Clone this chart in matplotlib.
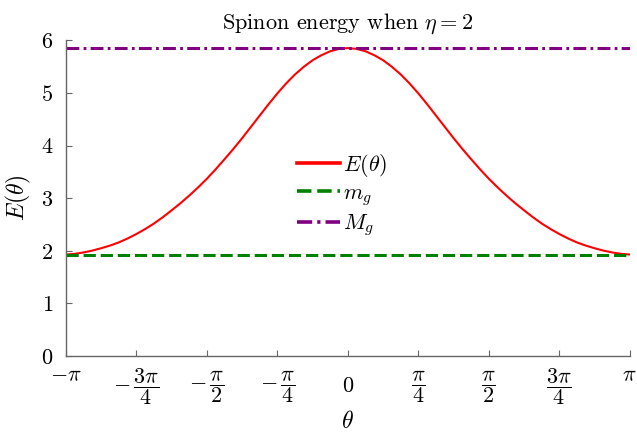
# spinon energy plot
import numpy as np
import matplotlib
matplotlib.use('Agg')
import matplotlib.pyplot as plt

plt.rcParams['font.family'] = 'serif'
plt.rcParams['font.serif'] = ['cmr10']
plt.rcParams['mathtext.fontset'] = 'cm'
plt.rcParams['axes.formatter.use_mathtext'] = True

# data (theta in steps of pi/32, curve is symmetric)
theta_steps = np.arange(-32, 33)                     # k, theta = k*pi/32
E_half = [5.85, 5.835, 5.79, 5.715, 5.62, 5.495, 5.35, 5.18, 4.99,
          4.785, 4.57, 4.355, 4.14, 3.935, 3.74, 3.55, 3.37,
          3.205, 3.05, 2.905, 2.77, 2.64, 2.52, 2.415, 2.32,
          2.235, 2.16, 2.10, 2.05, 2.005, 1.97, 1.943, 1.93]   # |k| = 0..32
E_vals = [E_half[abs(k)] for k in theta_steps]
m_g = 1.93
M_g = 5.85

xtick_vals = [-1, -0.75, -0.5, -0.25, 0, 0.25, 0.5, 0.75, 1]   # times pi
xtick_labels = [r'$-\pi$', r'$-\,\dfrac{3\pi}{4}$', r'$-\,\dfrac{\pi}{2}$', r'$-\,\dfrac{\pi}{4}$',
                r'$0$', r'$\dfrac{\pi}{4}$', r'$\dfrac{\pi}{2}$', r'$\dfrac{3\pi}{4}$', r'$\pi$']
ytick_vals = [0, 1, 2, 3, 4, 5, 6]

theta = np.array(theta_steps) * np.pi / 32

fig = plt.figure(figsize=(6.37, 4.37), dpi=100)
ax = fig.add_axes([0.1036, 0.185, 0.885, 0.723])

ax.plot(theta, E_vals, color='red', lw=1.5, label=r'$E(\theta)$')
ax.axhline(m_g, color='green', lw=2.2, dashes=(4.0, 1.6), label=r'$m_g$')
ax.axhline(M_g, color='purple', lw=2.2, dashes=(4.2, 1.4, 0.9, 1.4), label=r'$M_g$')

ax.set_xlim(-np.pi, np.pi)
ax.set_ylim(0, 6)
ax.set_yticks(ytick_vals)
ax.set_xticks(np.array(xtick_vals) * np.pi)
ax.set_xticklabels([])
for v, lab in zip(xtick_vals, xtick_labels):
    yy = -0.060 if abs(v) == 1 else -0.095
    ax.text(v * np.pi, yy, lab, transform=ax.get_xaxis_transform(),
            ha='center', va='center', fontsize=16)

ax.spines['top'].set_visible(False)
ax.spines['right'].set_visible(False)
for s in ['left', 'bottom']:
    ax.spines[s].set_color('#666666')
    ax.spines[s].set_linewidth(1.0)
ax.tick_params(direction='in', length=4, color='#666666', labelsize=16)
ax.tick_params(axis='y', pad=9)

ax.set_title(r'Spinon energy when $\eta = 2$', fontsize=16, pad=8)
ax.set_xlabel(r'$\theta$', fontsize=17, labelpad=36)
ax.set_ylabel(r'$E(\theta)$', fontsize=17, labelpad=6)

leg = ax.legend(loc='center', bbox_to_anchor=(0.49, 0.51), frameon=False, fontsize=16,
                handlelength=1.9, handletextpad=0.15, labelspacing=0.2)
for h in leg.get_lines():
    h.set_linewidth(2.6)

fig.savefig('out.png', dpi=100)
